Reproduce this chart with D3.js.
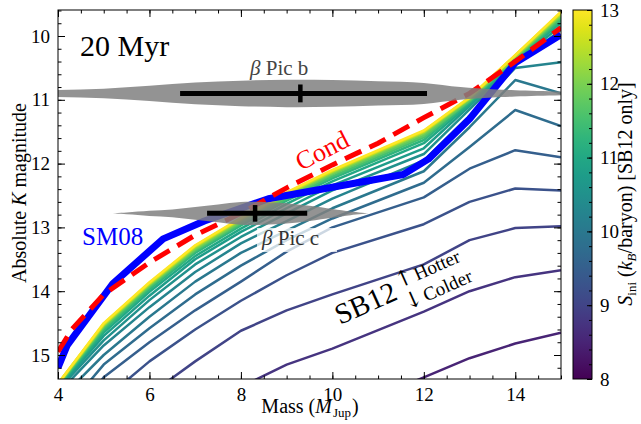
<!DOCTYPE html>
<html>
<head>
<meta charset="utf-8">
<script src="https://cdn.jsdelivr.net/npm/d3@7"></script>
<style>
  body { margin: 0; background: #fff; }
  text { font-family: "Liberation Serif", "DejaVu Serif", serif; fill: #000; }
</style>
</head>
<body>
<script>
//masses (M_Jup) where the SB12 tracks are sampled
var sb12Mass = [4, 5, 6, 7, 8, 9, 10, 12, 13, 14, 15];
//initial entropy of each SB12 track (k_B/baryon)
var sb12Entropy = [8.5, 8.75, 9, 9.25, 9.5, 9.75, 10, 10.25,
                   10.5, 10.75, 11, 11.25, 11.5, 11.75, 12, 12.25, 12.5, 12.75, 13];
//absolute K magnitude of each track, one row per entropy
var sb12Mag = [
    [18.6, 18.0, 17.5, 17.0, 16.6, 16.25, 15.95, 15.35, 15.05, 14.82, 14.65],
    [17.7, 17.0, 16.4, 15.9, 15.5, 15.15, 14.9, 14.32, 14.0, 13.78, 13.67],
    [17.0, 16.2, 15.62, 15.1, 14.62, 14.3, 14.05, 13.58, 13.2, 13.01, 12.98],
    [16.6, 15.7, 15.1, 14.6, 14.15, 13.75, 13.4, 12.95, 12.6, 12.39, 12.42],
    [16.3, 15.35, 14.8, 14.3, 13.85, 13.38, 13.0, 12.53, 12.08, 11.79, 11.9],
    [16.0, 15.15, 14.58, 14.05, 13.6, 13.2, 12.86, 12.3, 11.74, 11.16, 11.41],
    [15.72, 15.0, 14.4, 13.85, 13.4, 13.05, 12.7, 12.12, 11.43, 10.69, 10.9],
    [15.6, 14.85, 14.25, 13.7, 13.25, 12.9, 12.55, 11.95, 11.25, 10.5, 10.41],
    [15.55, 14.77, 14.14, 13.58, 13.15, 12.78, 12.42, 11.85, 11.15, 10.45, 9.90],
    [15.53, 14.70, 14.07, 13.50, 13.07, 12.70, 12.34, 11.76, 11.10, 10.41, 9.84],
    [15.50, 14.65, 14.01, 13.45, 13.02, 12.63, 12.28, 11.68, 11.07, 10.38, 9.79],
    [15.49, 14.61, 13.97, 13.40, 12.97, 12.58, 12.23, 11.63, 11.04, 10.36, 9.75],
    [15.48, 14.58, 13.94, 13.37, 12.94, 12.55, 12.20, 11.59, 11.02, 10.35, 9.72],
    [15.47, 14.56, 13.92, 13.35, 12.92, 12.52, 12.17, 11.56, 11.01, 10.34, 9.69],
    [15.46, 14.54, 13.90, 13.33, 12.90, 12.50, 12.15, 11.53, 10.99, 10.33, 9.67],
    [15.46, 14.53, 13.89, 13.31, 12.88, 12.48, 12.13, 11.51, 10.98, 10.32, 9.65],
    [15.45, 14.52, 13.88, 13.30, 12.87, 12.47, 12.12, 11.50, 10.97, 10.31, 9.64],
    [15.45, 14.51, 13.87, 13.29, 12.86, 12.46, 12.11, 11.49, 10.97, 10.30, 9.63],
    [15.45, 14.50, 13.86, 13.28, 12.85, 12.45, 12.10, 11.48, 10.96, 10.30, 9.62]
];

//SM08 hot start track
var sm08Mass = [4, 4.2, 5.2, 6.3, 7.2, 8.6, 11.55, 12.1, 13, 14, 15];
var sm08Mag = [15.2, 14.85, 13.88, 13.18, 12.9, 12.55, 12.17, 11.93, 11.3, 10.42, 9.98];

//Cond track
var condMass = [4, 4.3, 5, 6, 7, 8, 9, 10, 11, 12, 13, 14, 15];
var condMag = [14.95, 14.6, 14.05, 13.55, 13.12, 12.78, 12.38, 12.02, 11.68, 11.28, 10.9, 10.4, 9.87];

//beta Pic b mass distribution (half height in mag)
var picbMass = [3, 4, 5, 6, 7, 8, 9, 10, 11, 12, 12.8, 13.5, 14, 15, 16];
var picbHalf = [0.03, 0.055, 0.075, 0.12, 0.17, 0.2, 0.215, 0.21, 0.19, 0.165, 0.1, 0.065, 0.05, 0.03, 0.02];
var picbPoint = {mass: 9.3, lo: 6.67, hi: 12.07, mag: 10.9, err: 0.14};

//beta Pic c mass distribution
var piccMass = [5.1, 5.5, 6, 6.5, 7, 7.5, 8, 8.5, 9, 9.5, 10, 10.4, 10.8];
var piccHalf = [0, 0.015, 0.04, 0.06, 0.1, 0.14, 0.18, 0.18, 0.16, 0.12, 0.07, 0.03, 0];
var piccPoint = {mass: 8.31, lo: 7.26, hi: 9.45, mag: 12.78, err: 0.13};

//tick values
var xTicks = [4, 6, 8, 10, 12, 14];
var yTicks = [10, 11, 12, 13, 14, 15];
var cbTicks = [8, 9, 10, 11, 12, 13];

(function(){

    var width = 641, height = 424;
    var pLeft = 58, pRight = 561, pTop = 10, pBottom = 379;

    var svg = d3.select("body").append("svg")
        .attr("width", width)
        .attr("height", height);

    var x = d3.scaleLinear().domain([4, 15]).range([pLeft, pRight]);
    var y = d3.scaleLinear().domain([10, 15]).range([36, 355]);
    var color = d3.scaleSequential(d3.interpolateViridis).domain([8, 13]);

    var defs = svg.append("defs");
    defs.append("clipPath").attr("id", "plotclip")
        .append("rect")
        .attr("x", pLeft).attr("y", pTop)
        .attr("width", pRight - pLeft).attr("height", pBottom - pTop);

    var plot = svg.append("g").attr("clip-path", "url(#plotclip)");

    var line = d3.line()
        .x(function(d) { return x(d[0]); })
        .y(function(d) { return y(d[1]); });

    //SB12 tracks, coldest first so the hot ones sit on top
    sb12Entropy.forEach(function(s, i) {
        var pts = sb12Mass.map(function(m, j) { return [m, sb12Mag[i][j]]; });
        plot.append("path")
            .attr("d", line(pts))
            .attr("fill", "none")
            .attr("stroke", color(s))
            .attr("stroke-width", 2.5)
            .attr("stroke-linejoin", "round");
    });

    //SM08
    plot.append("path")
        .attr("d", line(sm08Mass.map(function(m, i) { return [m, sm08Mag[i]]; })))
        .attr("fill", "none")
        .attr("stroke", "#0000ff")
        .attr("stroke-width", 7)
        .attr("stroke-linejoin", "round");

    //Cond
    plot.append("path")
        .attr("d", line(condMass.map(function(m, i) { return [m, condMag[i]]; })))
        .attr("fill", "none")
        .attr("stroke", "#ff0000")
        .attr("stroke-width", 5)
        .attr("stroke-dasharray", "18,9");

    //mass distributions drawn as grey spindles
    function drawSpindle(masses, halves, p) {
        var area = d3.area()
            .x(function(d) { return x(d[0]); })
            .y0(function(d) { return y(p.mag + d[1]); })
            .y1(function(d) { return y(p.mag - d[1]); })
            .curve(d3.curveCatmullRom);
        plot.append("path")
            .attr("d", area(masses.map(function(m, i) { return [m, halves[i]]; })))
            .attr("fill", "#808080")
            .attr("fill-opacity", 0.85);
    }

    function drawErrorBar(p) {
        plot.append("line")
            .attr("x1", x(p.lo)).attr("x2", x(p.hi))
            .attr("y1", y(p.mag)).attr("y2", y(p.mag))
            .attr("stroke", "#000").attr("stroke-width", 5);
        plot.append("line")
            .attr("x1", x(p.mass)).attr("x2", x(p.mass))
            .attr("y1", y(p.mag - p.err)).attr("y2", y(p.mag + p.err))
            .attr("stroke", "#000").attr("stroke-width", 4.5);
    }

    drawSpindle(picbMass, picbHalf, picbPoint);
    drawSpindle(piccMass, piccHalf, piccPoint);
    drawErrorBar(picbPoint);
    drawErrorBar(piccPoint);

    //label box and labels
    svg.append("rect")
        .attr("x", 257).attr("y", 228).attr("width", 80).attr("height", 24)
        .attr("fill", "#fff").attr("fill-opacity", 0.75);

    function greekLabel(tx, ty, rest, fill) {
        var t = svg.append("text").attr("x", tx).attr("y", ty)
            .attr("font-size", 21).style("fill", fill);
        t.append("tspan").attr("font-style", "italic").text("\u03b2");
        t.append("tspan").text(" Pic " + rest);
    }
    greekLabel(250, 75, "b", "#444");
    greekLabel(262, 245, "c", "#333");

    svg.append("text").attr("x", 80).attr("y", 56)
        .attr("font-size", 30).text("20 Myr");

    svg.append("text").attr("x", 82).attr("y", 245)
        .attr("font-size", 25).style("fill", "#0000ff").text("SM08");

    svg.append("text")
        .attr("transform", "translate(301,171) rotate(-27)")
        .attr("font-size", 26).style("fill", "#ff0000").text("Cond");

    var sbg = svg.append("g").attr("transform", "translate(340,325) rotate(-24)");
    sbg.append("text").attr("font-size", 29).text("SB12");
    var hot = sbg.append("text").attr("x", 68).attr("y", -9).attr("font-size", 19);
    hot.append("tspan").attr("font-size", 22).style("font-family", "'DejaVu Serif', serif").text("\u2191");
    hot.append("tspan").attr("dx", 2).text("Hotter");
    var cold = sbg.append("text").attr("x", 68).attr("y", 14).attr("font-size", 19);
    cold.append("tspan").attr("font-size", 22).style("font-family", "'DejaVu Serif', serif").text("\u2193");
    cold.append("tspan").attr("dx", 2).text("Colder");

    //axes with inward ticks on all four sides
    function styleAxis(g) {
        g.select(".domain").remove();
        g.selectAll(".tick line").attr("stroke", "#000");
        g.selectAll(".tick text").attr("font-size", 19)
            .style("font-family", "'Liberation Serif', serif");
    }

    var xMinor = d3.range(4, 15.01, 0.5);
    var yMinor = d3.range(9.6, 15.38, 0.2);

    [[d3.axisBottom, pBottom, true], [d3.axisTop, pTop, false]].forEach(function(a) {
        svg.append("g").attr("transform", "translate(0," + a[1] + ")")
            .call(a[0](x).tickValues(xMinor).tickSize(-3.5).tickFormat(""))
            .call(styleAxis);
        svg.append("g").attr("transform", "translate(0," + a[1] + ")")
            .call(a[0](x).tickValues(xTicks).tickSize(-7).tickPadding(9)
                .tickFormat(a[2] ? d3.format("d") : ""))
            .call(styleAxis);
    });

    [[d3.axisLeft, pLeft, true], [d3.axisRight, pRight, false]].forEach(function(a) {
        svg.append("g").attr("transform", "translate(" + a[1] + ",0)")
            .call(a[0](y).tickValues(yMinor).tickSize(-3.5).tickFormat(""))
            .call(styleAxis);
        svg.append("g").attr("transform", "translate(" + a[1] + ",0)")
            .call(a[0](y).tickValues(yTicks).tickSize(-7).tickPadding(8)
                .tickFormat(a[2] ? d3.format("d") : ""))
            .call(styleAxis);
    });

    svg.append("rect")
        .attr("x", pLeft).attr("y", pTop)
        .attr("width", pRight - pLeft).attr("height", pBottom - pTop)
        .attr("fill", "none").attr("stroke", "#000").attr("stroke-width", 1);

    //axis titles
    var xl = svg.append("text").attr("x", 310).attr("y", 413)
        .attr("text-anchor", "middle").attr("font-size", 20);
    xl.append("tspan").text("Mass (");
    xl.append("tspan").attr("font-style", "italic").text("M");
    xl.append("tspan").attr("font-size", 13).attr("dx", 1).attr("dy", 4).text("Jup");
    xl.append("tspan").attr("dx", 1).attr("dy", -4).text(")");

    var yl = svg.append("text").attr("transform", "translate(26,193) rotate(-90)")
        .attr("text-anchor", "middle").attr("font-size", 20);
    yl.append("tspan").text("Absolute ");
    yl.append("tspan").attr("font-style", "italic").text("K");
    yl.append("tspan").text(" magnitude");

    //colourbar
    var cbX = 573, cbW = 19;
    var cy = d3.scaleLinear().domain([8, 13]).range([pBottom, pTop]);
    var grad = defs.append("linearGradient")
        .attr("id", "viridis").attr("x1", 0).attr("y1", 1).attr("x2", 0).attr("y2", 0);
    d3.range(0, 1.001, 0.05).forEach(function(t) {
        grad.append("stop").attr("offset", t).attr("stop-color", d3.interpolateViridis(t));
    });
    svg.append("rect")
        .attr("x", cbX).attr("y", pTop).attr("width", cbW).attr("height", pBottom - pTop)
        .attr("fill", "url(#viridis)").attr("stroke", "#000").attr("stroke-width", 1);

    svg.append("g").attr("transform", "translate(" + (cbX + cbW) + ",0)")
        .call(d3.axisRight(cy).tickValues(d3.range(8, 13.01, 0.2)).tickSize(-3).tickFormat(""))
        .call(styleAxis);
    svg.append("g").attr("transform", "translate(" + (cbX + cbW) + ",0)")
        .call(d3.axisRight(cy).tickValues(cbTicks).tickSize(-5).tickPadding(8).tickFormat(d3.format("d")))
        .call(styleAxis);

    var cl = svg.append("text").attr("transform", "translate(632,194) rotate(-90)")
        .attr("text-anchor", "middle").attr("font-size", 20);
    cl.append("tspan").attr("font-style", "italic").text("S");
    cl.append("tspan").attr("font-size", 13).attr("dy", 4).text("ini");
    cl.append("tspan").attr("dy", -4).text(" (");
    cl.append("tspan").attr("font-style", "italic").text("k");
    cl.append("tspan").attr("font-size", 13).attr("font-style", "italic").attr("dy", 4).text("B");
    cl.append("tspan").attr("dy", -4).text("/baryon) [SB12 only]");

})();
</script>
</body>
</html>
